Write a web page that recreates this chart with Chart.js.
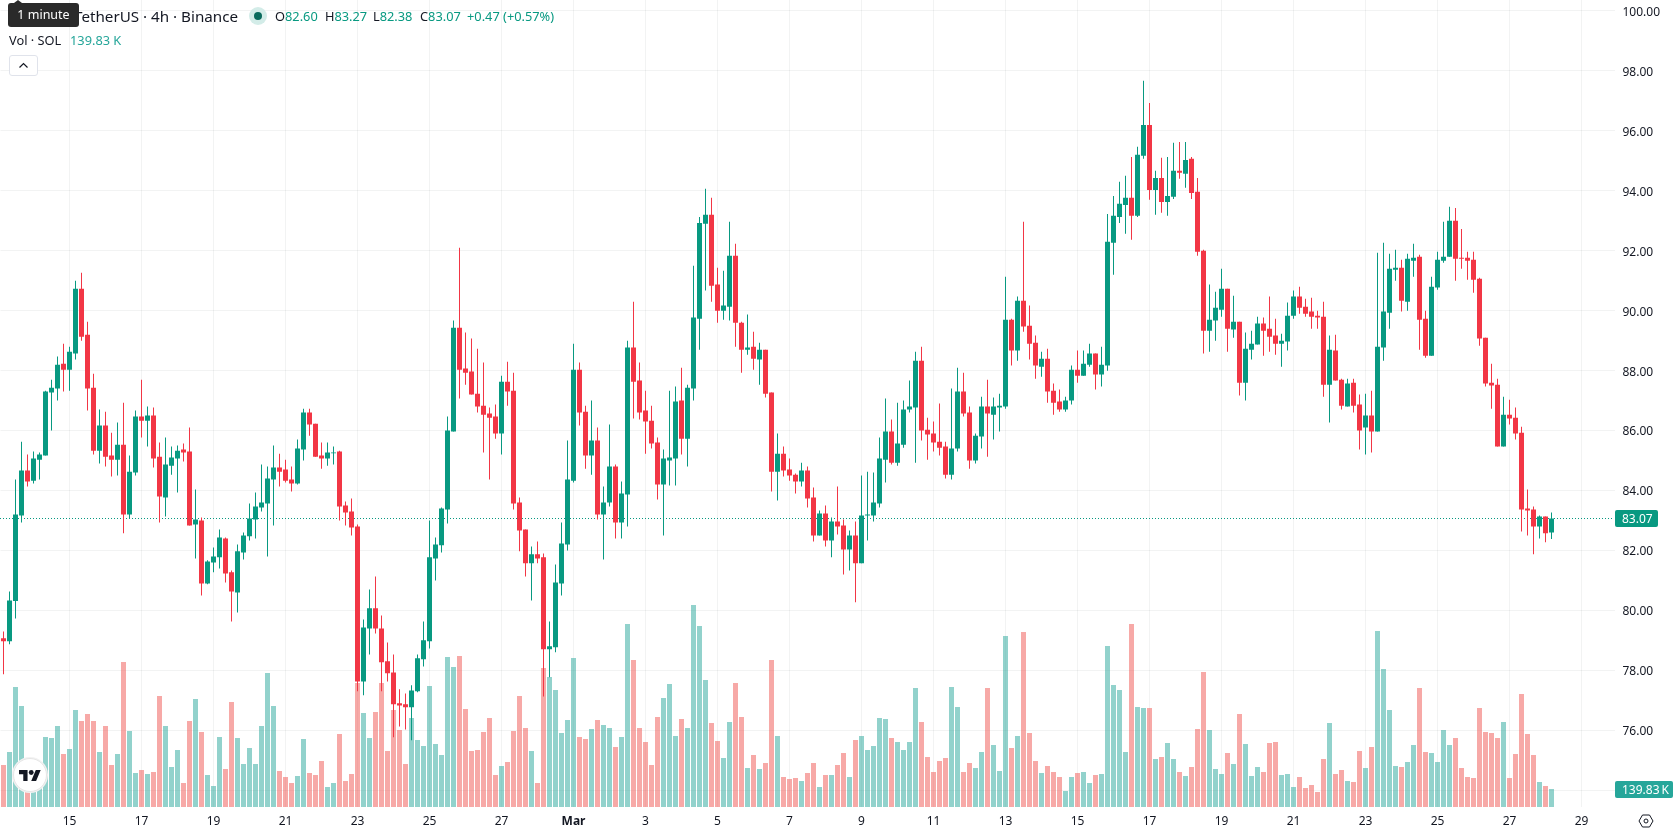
<!DOCTYPE html>
<html>
<head>
<meta charset="utf-8">
<title>SOL/USDT 4h</title>
<script src="https://cdn.jsdelivr.net/npm/chart.js@4/dist/chart.umd.min.js"></script>
<style>
  html, body { margin: 0; padding: 0; background: #fff; }
  #wrap { position: relative; width: 1678px; height: 835px; overflow: hidden; font-family: "Noto Sans", sans-serif; color: #131722; }
  #priceChart { position: absolute; left: 0; top: 0; }
  .txt { position: absolute; white-space: nowrap; line-height: 18px; }
  .title { font-size: 15.2px; }
  .ohlc { font-size: 12.8px; }
  .up { color: #089981; }
  .volup { color: #26a69a; }
  #hint { position: absolute; left: 8px; top: 3px; width: 71px; height: 24px; background: #2a2a2a; border-radius: 3px; color: #fff; font-size: 12.5px; line-height: 24px; text-align: center; }
  #hint:before { content: ""; position: absolute; left: 6px; top: -3px; border: 4px solid transparent; border-top: 0; border-bottom: 3px solid #2a2a2a; }
  #dot { position: absolute; left: 249px; top: 7px; width: 18px; height: 18px; border-radius: 50%; background: #d3ece8; }
  #dot:after { content: ""; position: absolute; left: 5px; top: 5px; width: 8px; height: 8px; border-radius: 50%; background: #0a6b5d; }
  #collapse { position: absolute; left: 9px; top: 55px; width: 27px; height: 19px; border: 1px solid #e0e3eb; border-radius: 3px; background: #fff; }
  #logo { position: absolute; left: 13px; top: 758px; width: 32px; height: 32px; border: 1px solid #e6e6e6; border-radius: 50%; background: #fff; box-shadow: 0 0 0 1px #f2f2f2; }
</style>
</head>
<body>
<div id="wrap">
  <canvas id="priceChart" width="1678" height="835"></canvas>

  <span class="txt title" style="left:9px;top:7px">Solana /</span>
  <span class="txt title" style="left:74px;top:7px">TetherUS · 4h · Binance</span>
  <div id="hint">1 minute</div>
  <div id="dot"></div>
  <span class="txt ohlc" style="left:275px;top:7px">O<span class="up">82.60</span></span>
  <span class="txt ohlc" style="left:325px;top:7px">H<span class="up">83.27</span></span>
  <span class="txt ohlc" style="left:373px;top:7px">L<span class="up">82.38</span></span>
  <span class="txt ohlc" style="left:420px;top:7px">C<span class="up">83.07</span></span>
  <span class="txt ohlc up" style="left:467px;top:7px">+0.47 (+0.57%)</span>
  <span class="txt ohlc" style="left:9px;top:31px">Vol · SOL</span>
  <span class="txt ohlc volup" style="left:70px;top:31px">139.83 K</span>

  <div id="collapse">
    <svg width="27" height="19" viewBox="0 0 27 19"><path d="M9.5 11.5 L13.5 7.5 L17.5 11.5" fill="none" stroke="#131722" stroke-width="1.2"/></svg>
  </div>
  <div id="logo">
    <svg width="22" height="11" viewBox="0 4 36 18" style="position:absolute;left:5px;top:11px"><path d="M14 22H7V11H0V4h14v18zM28 22h-8l7.5-18h8L28 22z" fill="#131722"/><circle cx="20" cy="8" r="4" fill="#131722"/></svg>
  </div>
  <svg width="16" height="14" viewBox="0 0 16 14" style="position:absolute;left:1638px;top:814px">
    <path d="M1 7 L4.5 1 H11.5 L15 7 L11.5 13 H4.5 Z" fill="none" stroke="#131722" stroke-width="1"/>
    <circle cx="8" cy="7" r="2" fill="none" stroke="#131722" stroke-width="1"/>
  </svg>
</div>

<script>
// 4h candles, one value per bar
const opens = [
  79.07,78.97,80.31,83.17,84.67,84.33,85.03,85.17,87.27,87.4,
  88.23,88.03,88.57,90.73,89.2,87.43,85.33,86.17,85.17,85.03,
  85.53,83.2,84.6,86.47,86.33,86.5,85.13,83.77,84.83,85.07,
  85.37,85.3,82.87,83.0,80.9,81.6,81.77,82.4,81.27,80.6,
  81.93,82.47,83.03,83.43,83.57,84.37,84.77,84.7,84.37,84.23,
  85.37,86.6,86.23,85.17,85.07,85.24,85.3,83.5,83.3,82.8,
  77.63,79.4,80.07,79.4,78.3,77.93,76.9,76.87,76.77,77.3,
  78.37,78.97,81.73,82.17,83.37,85.97,89.43,88.07,87.97,87.23,
  86.83,86.57,86.47,85.9,87.63,87.33,83.6,82.7,81.57,81.87,
  81.77,78.7,78.77,80.9,82.2,84.33,88.03,86.63,85.17,85.67,
  83.2,83.6,84.8,82.93,83.87,88.77,87.67,86.67,86.33,85.6,
  84.2,85.0,85.07,87.0,85.73,87.4,89.73,92.9,93.2,90.87,
  90.0,90.13,91.83,89.6,88.7,88.8,88.37,88.7,87.27,84.63,
  85.23,84.7,84.53,84.3,84.67,83.77,82.5,83.23,82.33,82.97,
  82.83,82.03,82.5,81.57,83.17,83.17,83.57,85.03,85.97,84.93,
  85.53,86.7,86.77,88.33,86.03,85.9,85.63,85.47,84.53,85.4,
  87.3,86.6,85.0,85.8,86.8,86.53,86.77,86.8,89.7,88.67,
  90.33,89.5,88.93,88.13,88.4,87.33,86.97,86.7,87.0,88.03,
  87.83,88.2,88.57,87.87,88.17,92.27,93.13,93.53,93.77,93.17,
  95.17,96.2,94.03,94.43,93.63,93.8,94.67,94.57,95.07,93.97,
  92.0,89.33,89.67,90.03,90.73,89.37,89.63,87.6,88.7,88.87,
  89.57,89.4,89.17,88.9,88.97,89.83,90.47,90.13,89.97,89.83,
  89.8,87.53,88.67,87.7,86.8,87.6,86.87,86.1,86.5,85.97,
  88.77,89.93,91.37,91.43,90.3,91.67,91.8,89.73,88.5,90.77,
  91.67,91.8,93.0,91.77,91.77,91.7,91.07,89.1,87.6,87.53,
  85.47,86.53,86.43,85.93,83.4,83.37,82.8,83.13,82.6
];
const highs = [
  79.3,80.63,84.37,85.63,85.2,85.3,85.27,87.33,87.7,88.47,
  88.9,88.8,91.0,91.27,89.63,87.9,86.7,86.63,85.93,86.27,
  86.93,85.17,86.67,87.7,86.8,86.77,85.6,85.77,85.47,85.5,
  85.57,86.1,84.03,83.1,81.67,82.1,82.7,82.43,81.33,82.2,
  82.6,83.57,83.93,84.87,84.8,85.5,85.23,85.03,84.8,85.7,
  86.73,86.73,86.23,85.6,85.6,85.47,85.33,83.63,83.73,82.87,
  79.7,80.7,81.13,79.83,78.93,78.53,77.37,77.23,77.5,78.53,
  79.63,83.0,82.43,83.43,86.47,89.67,92.1,89.27,89.07,88.73,
  88.27,86.77,86.87,87.83,88.3,87.93,83.77,82.7,82.13,82.3,
  81.9,79.63,81.53,82.93,85.67,88.9,88.27,86.83,87.0,86.1,
  84.13,86.2,84.87,84.3,89.0,90.3,88.27,87.33,86.83,85.77,
  85.37,87.33,87.47,88.1,87.53,91.5,93.13,94.07,93.77,91.43,
  91.33,92.97,92.23,89.63,89.87,89.3,88.93,88.7,87.27,85.9,
  85.47,85.07,84.57,84.93,84.8,84.1,83.33,83.5,83.1,84.13,
  83.03,82.67,82.97,84.5,84.63,84.6,85.77,87.07,86.37,86.93,
  87.0,87.67,88.63,88.8,86.43,86.3,86.9,85.63,87.4,88.1,
  87.93,86.8,85.9,87.13,87.7,87.1,87.23,91.13,89.73,90.47,
  92.97,90.17,89.17,88.63,88.73,87.57,87.37,87.13,88.17,88.67,
  88.67,88.9,88.57,88.8,93.23,93.83,94.3,94.5,95.13,95.47,
  97.67,96.93,94.67,95.1,95.13,95.6,95.63,95.63,95.13,94.43,
  92.03,90.87,90.63,91.4,90.73,90.5,89.63,89.27,89.33,89.8,
  89.77,90.47,89.73,89.23,90.27,90.67,90.8,90.4,90.43,90.0,
  90.3,89.17,89.2,87.73,87.73,87.73,87.2,87.23,87.33,91.93,
  92.27,91.9,92.03,91.7,91.9,92.23,91.87,90.0,91.13,91.97,
  92.97,93.47,93.43,92.73,91.97,91.97,91.1,89.1,88.23,87.73,
  87.13,87.03,86.77,86.13,84.03,83.47,83.17,83.13,83.27
];
const lows = [
  77.87,78.87,79.73,82.93,84.13,84.23,84.37,85.17,86.0,87.0,
  87.3,87.33,88.37,89.0,86.67,85.2,84.9,84.8,84.47,84.5,
  82.57,83.07,84.5,85.77,85.47,84.77,82.93,83.13,84.53,83.93,
  84.97,82.83,81.73,80.5,80.87,81.27,81.4,80.93,79.63,79.93,
  81.7,82.33,82.4,83.3,81.8,82.83,84.13,84.27,83.97,84.2,
  85.0,85.83,85.13,84.73,84.83,84.87,83.0,82.83,82.5,77.3,
  77.17,78.53,79.23,77.3,77.63,75.77,76.13,76.03,75.67,77.27,
  78.13,78.73,81.0,81.93,82.9,85.97,87.07,87.53,87.2,86.6,
  85.27,84.37,85.73,85.2,86.83,83.37,81.97,81.13,80.33,81.57,
  77.13,77.77,78.6,80.5,82.0,84.27,86.17,84.73,84.53,83.03,
  81.7,83.47,82.4,82.4,82.8,86.4,86.37,85.23,85.4,83.7,
  82.5,84.17,84.17,85.2,84.8,87.0,88.7,90.67,90.3,89.6,
  89.7,89.67,88.8,87.93,88.53,88.03,87.53,87.1,83.97,83.67,
  84.47,84.33,83.9,84.13,83.43,82.3,82.5,82.13,81.77,82.53,
  81.2,81.33,80.27,81.57,82.33,82.97,83.43,84.27,84.87,84.83,
  85.43,86.6,84.93,85.67,85.03,85.3,85.17,84.4,84.37,85.3,
  86.47,84.73,84.9,85.4,85.13,85.7,85.97,86.73,88.17,88.33,
  89.3,88.37,87.73,87.8,86.93,86.53,86.63,86.63,86.87,87.6,
  87.83,88.13,87.37,87.47,88.0,91.2,92.93,92.57,92.37,93.13,
  95.07,93.7,93.2,93.27,93.17,93.73,94.4,94.1,93.73,91.83,
  88.57,88.63,89.0,89.8,88.63,89.1,87.17,87.0,88.37,88.87,
  88.5,88.63,88.53,88.13,88.67,89.73,89.9,89.8,89.4,89.4,
  87.13,86.27,87.67,86.7,86.8,86.6,85.37,85.2,85.27,85.97,
  88.33,89.4,91.0,89.97,90.0,91.13,88.7,88.43,88.5,90.7,
  91.6,91.8,91.0,91.4,91.03,90.6,88.83,87.47,86.73,85.47,
  85.47,86.2,85.7,82.63,82.5,81.87,82.4,82.27,82.38
];
const closes = [
  78.97,80.33,83.2,84.67,84.3,85.07,85.2,87.3,87.43,88.2,
  88.03,88.63,90.73,89.13,87.4,85.33,86.17,85.13,85.03,85.53,
  83.2,84.63,86.47,86.33,86.5,85.07,83.8,84.87,85.1,85.33,
  85.27,82.83,83.03,80.9,81.63,81.8,82.43,81.23,80.63,81.97,
  82.5,83.07,83.47,83.6,84.4,84.77,84.63,84.33,84.23,85.4,
  86.6,86.2,85.13,85.07,85.27,85.27,83.47,83.27,82.77,77.63,
  79.43,80.07,79.4,78.27,77.9,76.87,76.83,76.77,77.33,78.4,
  79.0,81.77,82.2,83.4,86.0,89.43,88.03,87.93,87.2,86.8,
  86.53,86.43,85.9,87.63,87.3,83.57,82.67,81.57,81.87,81.73,
  78.7,78.8,80.93,82.23,84.37,88.03,86.6,85.17,85.67,83.2,
  83.6,84.8,82.93,83.9,88.77,87.63,86.6,86.3,85.57,84.2,
  85.07,85.1,86.97,85.73,87.43,89.77,92.93,93.2,90.83,90.0,
  90.17,91.83,89.6,88.7,88.77,88.4,88.7,87.23,84.63,85.23,
  84.67,84.5,84.3,84.67,83.73,82.5,83.23,82.33,82.97,82.8,
  82.03,82.5,81.57,83.17,83.2,83.6,85.07,85.97,84.93,85.57,
  86.7,86.8,88.33,86.0,85.87,85.6,85.43,84.53,85.4,87.3,
  86.57,85.0,85.83,86.8,86.57,86.8,86.83,89.7,88.67,90.33,
  89.47,88.9,88.17,88.4,87.3,86.93,86.7,87.0,88.03,87.83,
  88.23,88.57,87.87,88.2,92.3,93.17,93.57,93.77,93.17,95.2,
  96.2,94.03,94.43,93.63,93.83,94.67,94.6,95.03,93.93,91.97,
  89.33,89.7,90.1,90.73,89.4,89.63,87.6,88.73,88.9,89.57,
  89.33,89.13,88.9,89.0,89.83,90.47,90.1,89.9,89.8,89.77,
  87.53,88.7,87.67,86.83,87.57,86.83,86.0,86.5,85.97,88.8,
  89.97,91.4,91.43,90.33,91.73,91.77,89.7,88.5,90.8,91.7,
  91.8,93.0,91.73,91.73,91.67,91.03,89.07,87.57,87.5,85.47,
  86.53,86.4,85.9,83.37,83.33,82.8,83.13,82.57,83.07
];
// volume in thousands of SOL
const volumes = [
  326,427,932,785,313,262,313,544,536,629,
  412,451,754,668,723,668,427,629,326,412,
  1127,591,264,287,256,272,862,629,311,443,
  186,668,839,583,249,163,544,295,816,536,
  334,458,334,629,1041,785,280,233,186,241,
  528,264,249,357,155,186,567,202,256,963,
  730,536,738,963,435,754,598,334,692,521,
  474,940,490,404,1166,1088,1173,761,435,443,
  583,692,249,319,350,591,862,614,435,186,
  1080,1010,909,575,676,1158,544,528,606,676,
  637,614,466,544,1422,1142,614,505,326,699,
  847,956,552,684,614,1570,1406,987,653,513,
  381,660,963,699,303,404,295,342,1142,552,
  233,218,225,202,264,342,155,249,249,326,
  420,233,521,552,443,474,692,684,536,505,
  443,505,925,660,389,272,357,381,932,777,
  272,342,303,427,925,482,280,1329,458,552,
  1360,575,357,264,319,272,233,124,233,264,
  272,186,249,256,1251,948,909,427,1422,777,
  769,769,373,389,497,373,272,241,311,606,
  1049,598,295,256,420,334,723,490,241,311,
  272,497,505,249,256,155,233,148,171,117,
  373,653,256,287,202,194,435,303,466,1368,
  1072,754,319,311,350,482,925,427,420,350,
  598,482,536,303,233,225,769,583,575,536,
  660,225,412,878,567,404,194,163,139.83
];

// day labels sit every 12 bars, starting at bar 11
const dayLabels = ['15','17','19','21','23','25','27','Mar','3','5','7','9','11','13','15','17','19','21','23','25','27','29'];
const firstDayBar = 11;
const barsPerLabel = 12;
const emptySlots = 10;   // room on the right of the last candle

const priceTicks = [100,98,96,94,92,90,88,86,84,82,80,78,76,74];
const lastPrice = 83.07;
const lastVolume = 139.83;

const UP = '#089981';
const DOWN = '#F23645';
const VOL_UP = 'rgba(38,166,154,0.5)';
const VOL_DOWN = 'rgba(239,83,80,0.5)';
const GRID = 'rgba(42,46,57,0.06)';
const AXIS_FONT = { family: '"Noto Sans", sans-serif', size: 12 };

const slots = opens.length + emptySlots;
const categories = Array.from({ length: slots }, (_, i) => {
  const n = (i - firstDayBar) / barsPerLabel;
  return Number.isInteger(n) && dayLabels[n] ? dayLabels[n] : '';
});

const isUp = i => closes[i] >= opens[i];
const candleColors = opens.map((_, i) => isUp(i) ? UP : DOWN);
const volumeColors = opens.map((_, i) => isUp(i) ? VOL_UP : VOL_DOWN);

function labelBox(ctx, text, x, y, w, h, color) {
  ctx.fillStyle = color;
  ctx.beginPath();
  ctx.roundRect(x, y, w, h, 2);
  ctx.fill();
  ctx.fillStyle = '#fff';
  ctx.font = '12px "Noto Sans", sans-serif';
  ctx.textAlign = 'left';
  ctx.textBaseline = 'middle';
  ctx.fillText(text, x + 7, y + h / 2 + 1.5);
}

// the price scale runs edge to edge, no room reserved for half a tick label
function dropAxisPadding(axis) {
  axis.paddingTop = 0;
  axis.paddingBottom = 0;
  axis.paddingLeft = 0;
  axis.paddingRight = 0;
}

// dotted last-price line goes under the candles, the axis badges on top of everything
const lastPricePlugin = {
  id: 'lastPrice',
  beforeDatasetsDraw(chart) {
    const { ctx, chartArea, scales } = chart;
    const y = Math.floor(scales.y.getPixelForValue(lastPrice)) + 0.5;
    ctx.save();
    ctx.strokeStyle = UP;
    ctx.lineWidth = 1;
    ctx.setLineDash([1, 2]);
    ctx.beginPath();
    // whole-pixel start keeps the dots crisp
    ctx.moveTo(Math.floor(chartArea.left), y);
    ctx.lineTo(Math.floor(chartArea.right), y);
    ctx.stroke();
    ctx.restore();
  },
  afterDraw(chart) {
    const { ctx, scales } = chart;
    const py = Math.round(scales.y.getPixelForValue(lastPrice));
    const vy = Math.round(scales.vol.getPixelForValue(lastVolume));
    ctx.save();
    labelBox(ctx, lastPrice.toFixed(2), 1615, py - 8, 43, 17, UP);
    labelBox(ctx, lastVolume.toFixed(2) + '\u2009K', 1615, vy - 8, 58, 17, '#26a69a');
    ctx.restore();
  }
};

new Chart(document.getElementById('priceChart').getContext('2d'), {
  type: 'bar',
  data: {
    labels: categories,
    datasets: [
      {
        // wick
        label: 'Range',
        data: opens.map((_, i) => [lows[i], highs[i]]),
        backgroundColor: candleColors,
        barThickness: 1,
        order: 2
      },
      {
        // body
        label: 'Candle',
        data: opens.map((_, i) => [opens[i], closes[i]]),
        backgroundColor: candleColors,
        barThickness: 5,
        order: 1
      },
      {
        label: 'Volume',
        data: volumes,
        yAxisID: 'vol',
        backgroundColor: volumeColors,
        barThickness: 5,
        order: 3
      }
    ]
  },
  options: {
    responsive: false,
    animation: false,
    devicePixelRatio: 1,
    grouped: false,
    inflateAmount: 0,
    borderSkipped: false,
    layout: { autoPadding: false, padding: { left: 0.5, top: 0, right: 0, bottom: 0 } },
    plugins: { legend: { display: false }, tooltip: { enabled: false } },
    scales: {
      x: {
        offset: true,
        border: { display: false },
        grid: { color: GRID, offset: false, drawTicks: false },
        afterBuildTicks: axis => { axis.ticks = axis.ticks.filter(t => categories[t.value] !== ''); },
        afterFit: axis => { axis.height = 28; dropAxisPadding(axis); },
        ticks: {
          autoSkip: false,
          maxRotation: 0,
          padding: 7,
          color: '#131722',
          font: c => c.tick && categories[c.tick.value] === 'Mar'
            ? { ...AXIS_FONT, weight: 'bold' } : AXIS_FONT,
          callback: value => categories[value]
        }
      },
      y: {
        position: 'right',
        min: 73.44,
        max: 100.367,
        border: { display: false },
        grid: { color: GRID, drawTicks: false },
        afterBuildTicks: axis => { axis.ticks = priceTicks.map(v => ({ value: v })); },
        afterFit: axis => { axis.width = 63.5; dropAxisPadding(axis); },
        ticks: {
          padding: 8,
          labelOffset: 1.5,
          color: '#131722',
          font: AXIS_FONT,
          callback: v => v.toFixed(2)
        }
      },
      vol: {
        display: false,
        min: 0,
        max: 6270
      }
    }
  },
  plugins: [lastPricePlugin]
});
</script>
</body>
</html>
